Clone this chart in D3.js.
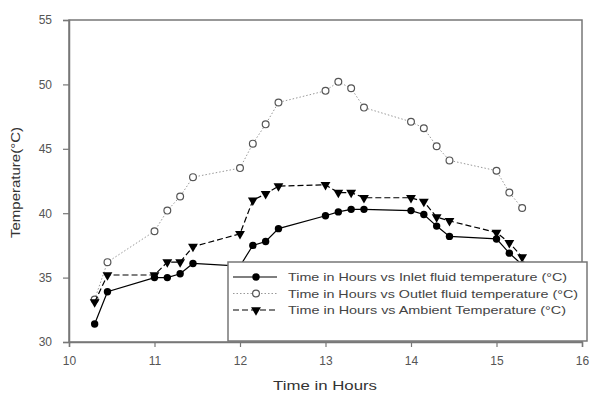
<!DOCTYPE html>
<html>
<head>
<meta charset="utf-8">
<script src="https://cdn.jsdelivr.net/npm/d3@7"></script>
<style>
  body { margin: 0; background: #fff; }
  svg { font-family: "Liberation Sans", Arial, sans-serif; }
</style>
</head>
<body>
<svg id="chart" width="594" height="394"></svg>
<script>
// time in hours for each series
var inletTime = [10.3, 10.45, 11, 11.15, 11.3, 11.45, 12, 12.15, 12.3, 12.45, 13, 13.15, 13.3, 13.45, 14, 14.15, 14.3, 14.45, 15, 15.15, 15.3];
var inletTemp = [31.4, 33.9, 35.0, 35.0, 35.3, 36.1, 35.9, 37.5, 37.8, 38.8, 39.8, 40.1, 40.3, 40.3, 40.2, 39.9, 39.0, 38.2, 38.0, 36.9, 36.0];

var outletTime = [10.3, 10.45, 11, 11.15, 11.3, 11.45, 12, 12.15, 12.3, 12.45, 13, 13.15, 13.3, 13.45, 14, 14.15, 14.3, 14.45, 15, 15.15, 15.3];
var outletTemp = [33.3, 36.2, 38.6, 40.2, 41.3, 42.8, 43.5, 45.4, 46.9, 48.6, 49.5, 50.2, 49.7, 48.2, 47.1, 46.6, 45.2, 44.1, 43.3, 41.6, 40.4];

var ambientTime = [10.3, 10.45, 11, 11.15, 11.3, 11.45, 12, 12.15, 12.3, 12.45, 13, 13.15, 13.3, 13.45, 14, 14.15, 14.3, 14.45, 15, 15.15, 15.3];
var ambientTemp = [33.1, 35.2, 35.2, 36.2, 36.2, 37.4, 38.4, 41.0, 41.5, 42.1, 42.2, 41.6, 41.6, 41.2, 41.2, 40.9, 39.7, 39.4, 38.5, 37.7, 36.6];

var xTicks = [10, 11, 12, 13, 14, 15, 16];
var yTicks = [30, 35, 40, 45, 50, 55];
var legendLabels = [
  "Time in Hours vs Inlet fluid temperature (\u00b0C)",
  "Time in Hours vs Outlet fluid temperature (\u00b0C)",
  "Time in Hours vs Ambient Temperature (\u00b0C)"
];

var svg = d3.select("#chart");

var x = d3.scaleLinear().domain([10, 16]).range([69, 582]);
var y = d3.scaleLinear().domain([30, 55]).range([342, 20]);

function zip(t, v) { return t.map(function (d, i) { return { t: d, v: v[i] }; }); }

var series = [
  { data: zip(inletTime, inletTemp), stroke: "#000", dash: null, width: 1.2, marker: "filled" },
  { data: zip(outletTime, outletTemp), stroke: "#999", dash: "1.5,2", width: 1, marker: "open" },
  { data: zip(ambientTime, ambientTemp), stroke: "#000", dash: "6,3", width: 1.2, marker: "tri" }
];

// frame
svg.append("rect")
  .attr("x", x(10)).attr("y", y(55))
  .attr("width", x(16) - x(10)).attr("height", y(30) - y(55))
  .attr("fill", "none").attr("stroke", "#777").attr("stroke-width", 1.5);

// axes
var xAxis = svg.append("g")
  .attr("transform", "translate(0," + y(30) + ")")
  .call(d3.axisBottom(x).tickValues(xTicks).tickSize(5).tickPadding(9).tickFormat(d3.format("d")));
var yAxis = svg.append("g")
  .attr("transform", "translate(" + x(10) + ",0)")
  .call(d3.axisLeft(y).tickValues(yTicks).tickSize(6).tickPadding(11).tickFormat(d3.format("d")));

[xAxis, yAxis].forEach(function (a) {
  a.select(".domain").attr("stroke", "#777").attr("stroke-width", 1.5);
  a.selectAll(".tick line").attr("stroke", "#777").attr("stroke-width", 1.2);
  a.selectAll(".tick text").attr("fill", "#555").style("font-size", "12px");
});

var line = d3.line().x(function (d) { return x(d.t); }).y(function (d) { return y(d.v); });
var tri = d3.symbol().type(d3.symbolTriangle).size(42);

function drawMarker(g, s, px, py) {
  if (s.marker === "filled") {
    g.append("circle").attr("cx", px).attr("cy", py).attr("r", 3.7).attr("fill", "#000");
  } else if (s.marker === "open") {
    g.append("circle").attr("cx", px).attr("cy", py).attr("r", 3.4)
      .attr("fill", "#fff").attr("stroke", "#555").attr("stroke-width", 1.2);
  } else {
    g.append("path").attr("d", tri)
      .attr("transform", "translate(" + px + "," + py + ") rotate(180)")
      .attr("fill", "#000");
  }
}

series.forEach(function (s) {
  var g = svg.append("g");
  g.append("path").datum(s.data)
    .attr("d", line).attr("fill", "none")
    .attr("stroke", s.stroke).attr("stroke-width", s.width)
    .attr("stroke-dasharray", s.dash);
  s.data.forEach(function (d) { drawMarker(g, s, x(d.t), y(d.v)); });
});

// legend
var legendWidths = [279, 290, 278];
var lg = svg.append("g");
lg.append("rect")
  .attr("x", 228).attr("y", 262).attr("width", 359).attr("height", 79)
  .attr("fill", "#fff").attr("stroke", "#777").attr("stroke-width", 1.5);
series.forEach(function (s, i) {
  var ly = 277 + i * 16.5;
  lg.append("line").attr("x1", 233).attr("x2", 277).attr("y1", ly).attr("y2", ly)
    .attr("stroke", s.stroke).attr("stroke-width", s.width).attr("stroke-dasharray", s.dash);
  drawMarker(lg, s, 256, ly);
  lg.append("text").attr("x", 288).attr("y", ly + 4)
    .attr("fill", "#444").style("font-size", "11px")
    .attr("textLength", legendWidths[i]).attr("lengthAdjust", "spacingAndGlyphs")
    .text(legendLabels[i]);
});

// axis titles
svg.append("text")
  .attr("x", 273).attr("y", 390)
  .attr("fill", "#333").style("font-size", "13px")
  .attr("textLength", 104).attr("lengthAdjust", "spacingAndGlyphs")
  .text("Time in Hours");
svg.append("text")
  .attr("transform", "translate(20,238) rotate(-90)")
  .attr("fill", "#333").style("font-size", "13px")
  .attr("textLength", 111).attr("lengthAdjust", "spacingAndGlyphs")
  .text("Temperature(\u00b0C)");
</script>
</body>
</html>
